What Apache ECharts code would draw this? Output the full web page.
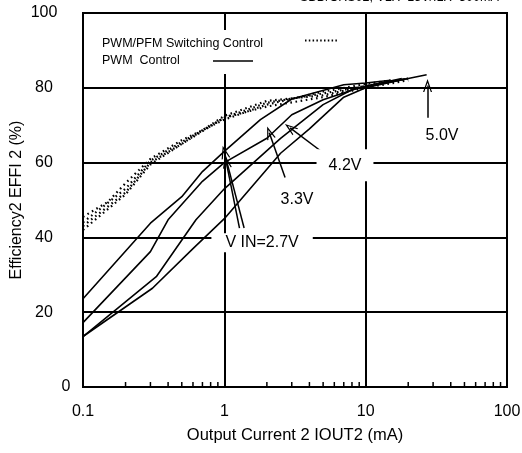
<!DOCTYPE html>
<html><head><meta charset="utf-8">
<script src="https://cdn.jsdelivr.net/npm/echarts@6/dist/echarts.min.js"></script>
<style>html,body{margin:0;padding:0;background:#fff}#c{width:522px;height:453px}</style>
</head><body><div id="c"></div>
<script>
// ---- data (x: output current mA, y: efficiency %) ----
const pwm27 = [[0.1,23.6],[0.3,43.8],[0.5,50.9],[0.7,57.6],[1,63],[1.8,71.5],[3,77],[7,80.8],[10,81.3],[15,82]];
const pwm33 = [[0.1,17.2],[0.3,36.2],[0.4,44.7],[0.7,55],[1,60],[2,66.5],[3,72.8],[5,76.8],[9,80],[18,82.5]];
const pwm42 = [[0.1,13.5],[0.33,29.5],[0.63,44.7],[1,53],[2.5,66.5],[5,75.5],[8,79.5],[12,81],[20,82.5]];
const pwm50 = [[0.1,13.5],[0.31,26.4],[0.6,37],[1,45],[2.5,62.5],[4,69],[7,77.5],[10,80],[20,82.5],[27,83.5]];
const pfm27 = [[0.1,45.5],[0.15,49.5],[0.2,54.5],[0.3,61],[0.5,66],[1,71.5],[2,75.5],[5,79],[10,81],[15,82]];
const pfm33 = [[0.1,44],[0.2,53],[0.3,60.5],[0.5,65.5],[1,72],[2,76],[5,78.5],[10,80.5],[20,82.5]];
const pfm42 = [[0.1,43],[0.2,52],[0.3,60],[0.5,65],[1,72.5],[2,76.5],[5,78],[10,80.5],[20,82.5]];
const pfm50 = [[0.1,42],[0.2,51.5],[0.3,59.5],[0.5,65],[1,72],[2,75],[5,77.5],[10,80],[20,82]];
const xTickLabels = ['0.1','1','10','100'];
const yTickLabels = ['0','20','40','60','80','100'];
const minorTicks = [0.2,0.3,0.4,0.5,0.6,0.7,0.8,0.9,2,3,4,5,6,7,8,9,20,30,40,50,60,70,80,90];
const voltageLabels = ['V IN=2.7V','3.3V','4.2V','5.0V'];
const legendNames = ['PWM/PFM Switching Control','PWM  Control'];
const xTitle = 'Output Current 2 IOUT2 (mA)';
const yTitle = 'Efficiency2 EFFI 2 (%)';
const topNote = 'SBD/CRS02, VLX=15V/ILX=300mA';

const FONT = '"Liberation Sans", Arial, Helvetica, sans-serif';
const chart = echarts.init(document.getElementById('c'), null, {renderer:'canvas'});

function solid(data){
  return {type:'line', data, showSymbol:false, symbol:'none', silent:true, z:3,
    lineStyle:{color:'#000', width:1.6}};
}
function dotted(data){
  return {type:'line', data, showSymbol:false, symbol:'none', silent:true, z:3,
    lineStyle:{color:'#000', width:2.2, type:[1.6,3.6], cap:'butt'}};
}
const chevron = 'path://M0,10 L5,0 L10,10 L8.6,10 L5,2.8 L1.4,10 Z';
const arrowLine = (from, to) => [{coord:from}, {coord:to}];

const option = {
  animation:false,
  backgroundColor:'#fff',
  grid:{left:83, right:15, top:13, bottom:66, containLabel:false, outerBoundsMode:'none',
    show:true, borderColor:'#000', borderWidth:2},
  xAxis:{
    type:'log', logBase:10, min:0.1, max:100,
    axisLine:{lineStyle:{color:'#000', width:2}},
    axisTick:{show:false},
    splitLine:{show:true, lineStyle:{color:'#000', width:2}},
    axisLabel:{color:'#000', fontSize:16, fontFamily:FONT, margin:17,
      formatter:(v)=>{const i=Math.round(Math.log10(v))+1; return xTickLabels[i] ?? String(v);}},
    name:xTitle, nameLocation:'middle', nameGap:40, nameMoveOverlap:false,
    nameTextStyle:{color:'#000', fontSize:16.5, fontFamily:FONT}
  },
  yAxis:{
    type:'value', min:0, max:100, interval:20,
    axisLine:{show:true, lineStyle:{color:'#000', width:2}},
    axisTick:{show:false},
    splitLine:{show:true, lineStyle:{color:'#000', width:2}},
    axisLabel:{color:'#000', fontSize:16, fontFamily:FONT, margin:39, align:'center',
      formatter:(v)=>{const s=yTickLabels[v/20]; return v===0 ? '{z|'+s+'}' : s;},
      rich:{z:{fontSize:16, fontFamily:FONT, color:'#000', padding:[0,0,0,44]}}},
    name:yTitle, nameLocation:'middle', nameGap:58, nameMoveOverlap:false,
    nameTextStyle:{color:'#000', fontSize:16, fontFamily:FONT}
  },
  series:[
    dotted(pfm27), dotted(pfm33), dotted(pfm42), dotted(pfm50),
    solid(pwm27), solid(pwm33), solid(pwm42), solid(pwm50),
    {
      type:'custom', silent:true, z:4, clip:false,
      data: minorTicks.map(v=>[v,0]),
      renderItem:(params, api)=>{
        const p = api.coord([api.value(0), 0]);
        return {type:'line', shape:{x1:p[0], y1:p[1]-1, x2:p[0], y2:p[1]-5},
          style:{stroke:'#000', lineWidth:1.5}};
      }
    },
    {
      type:'scatter', silent:true, z:6, symbolSize:0,
      itemStyle:{opacity:1},
      data:[
        {value:[1.85,38.6], name:voltageLabels[0], label:{padding:[2,14,1,14]}},
        {value:[3.27,50], name:voltageLabels[1], label:{padding:[2,4,1,4]}},
        {value:[7.14,59.3], name:voltageLabels[2], label:{padding:[8,12,8,12]}},
        {value:[34.7,67.2], name:voltageLabels[3], label:{padding:[2,4,1,4]}}
      ],
      label:{show:true, position:'inside', formatter:'{b}', color:'#000', opacity:1, fontSize:16,
        fontFamily:FONT, backgroundColor:'#fff'},
      markLine:{
        silent:true, symbol:['none', chevron], symbolSize:[9,13],
        label:{show:false},
        lineStyle:{color:'#000', width:1.5, type:'solid', opacity:1},
        data:[
          arrowLine([1.38,42.5],[1,62.8]),
          arrowLine([1.28,42.5],[1.03,60.3]),
          arrowLine([2.69,56],[2.08,68]),
          arrowLine([5.14,62.3],[2.92,69.3]),
          arrowLine([27.4,72],[27.4,80.6])
        ]
      }
    }
  ],
  graphic:[
    {type:'text', left:300, top:-9, z:10,
      style:{text:topNote, fill:'#000', fontSize:12.5, fontFamily:FONT}},
    {type:'rect', shape:{x:95, y:30, width:252, height:44}, style:{fill:'#fff'}, z:5},
    {type:'text', x:102, y:44, z:10,
      style:{text:legendNames[0], fill:'#000', fontSize:12.5, fontFamily:FONT, verticalAlign:'middle'}},
    {type:'text', x:102, y:61, z:10,
      style:{text:legendNames[1], fill:'#000', fontSize:12.5, fontFamily:FONT, verticalAlign:'middle'}},
    {type:'line', shape:{x1:305, y1:40.5, x2:338, y2:40.5}, z:10,
      style:{stroke:'#000', lineWidth:2, lineDash:[1.5,2.3]}},
    {type:'line', shape:{x1:213, y1:61, x2:253, y2:61}, z:10,
      style:{stroke:'#000', lineWidth:1.5}}
  ]
};
chart.setOption(option);
</script></body></html>
